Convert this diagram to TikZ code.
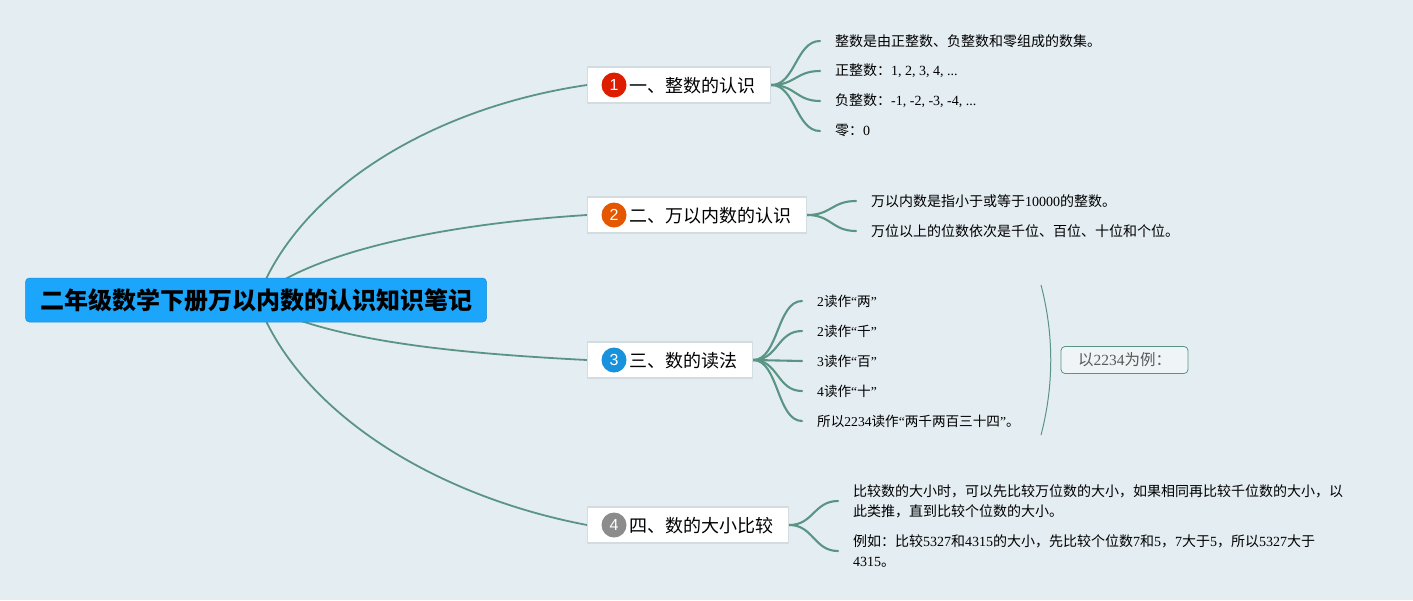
\documentclass[tikz,border=0pt]{standalone}
\usepackage{fontspec}
\setmainfont{Liberation Serif}
\newfontfamily\cjk{Noto Sans CJK SC}
\newfontfamily\numf{Liberation Sans}
\usetikzlibrary{backgrounds,calc}
\newcommand{\C}[1]{{\cjk #1}}
\definecolor{bgc}{HTML}{E4EDF2}
\definecolor{linec}{HTML}{5A9485}
\definecolor{rootc}{HTML}{1BA6FB}
\definecolor{topb}{HTML}{D3DCE0}
\tikzset{
  x=1pt,y=-1pt,
  rootbox/.style={fill=rootc,draw=rootc!85!black,line width=.5pt,rounded corners=4pt,minimum width=461pt,minimum height=44pt,inner sep=0pt,font=\fontsize{24}{28}\selectfont\cjk\bfseries,text=black},
  topicbox/.style={fill=white,draw=topb,line width=1.3pt,minimum height=36pt,inner sep=0pt,anchor=west,font=\fontsize{18}{22}\selectfont,text=black},
  topiclabel/.style={anchor=west,inner sep=0pt,font=\fontsize{18}{22}\selectfont\cjk},
  leafbox/.style={anchor=west,inner xsep=15pt,inner ysep=2pt,font=\fontsize{14}{20}\selectfont,text=black,align=left},
  narrowleaf/.style={leafbox,font=\fontsize{13.6}{20}\selectfont},
  numdot/.style={circle,minimum size=25pt,inner sep=0pt,text=white,font=\fontsize{16}{18}\selectfont\numf},
  mainline/.style={draw=linec,line width=1.8pt},
  subline/.style={draw=linec,line width=2.1pt,line cap=round},
  brace/.style={draw=linec,line width=1pt},
  sumbox/.style={fill=bgc!60!white,draw=linec,line width=.8pt,rounded corners=4pt,minimum width=127pt,minimum height=27pt,inner sep=0pt,font=\fontsize{15.5}{18}\selectfont,text=black!65}
}
\begin{document}
\begin{tikzpicture}
\useasboundingbox (0,0) rectangle (1413,600);
% root
\node[rootbox] (root) at (256,300) {\hspace{1pt}二年级数学下册万以内数的认识知识笔记};
% topics
\node[topicbox,minimum width=183pt] (t1) at (587,85) {};
\node[topicbox,minimum width=219pt] (t2) at (587,215) {};
\node[topicbox,minimum width=165pt] (t3) at (587,360) {};
\node[topicbox,minimum width=201pt] (t4) at (587,525) {};
\node[numdot,fill=red!75!orange!87!black] (n1) at (614,85) {1};
\node[numdot,fill=orange!75!red!90!black] (n2) at (614,215) {2};
\node[numdot,fill=rootc!88!black] (n3) at (614,360) {3};
\node[numdot,fill=black!45] (n4) at (614,525) {4};
\node[topiclabel] (l1) at (629,86) {一、整数的认识};
\node[topiclabel] (l2) at (629,216) {二、万以内数的认识};
\node[topiclabel] (l3) at (629,361) {三、数的读法};
\node[topiclabel] (l4) at (629,526) {四、数的大小比较};
% leaves
\node[leafbox] (a1) at (820,41) {\C{整数是由正整数、负整数和零组成的数集。}};
\node[leafbox] (a2) at (820,71) {\C{正整数：}1, 2, 3, 4, ...};
\node[leafbox] (a3) at (820,101) {\C{负整数：}-1, -2, -3, -4, ...};
\node[leafbox] (a4) at (820,131) {\C{零：}0};
\node[leafbox] (b1) at (856,201) {\C{万以内数是指小于或等于}10000\C{的整数。}};
\node[leafbox] (b2) at (856,231) {\C{万位以上的位数依次是千位、百位、十位和个位。}};
\node[narrowleaf] (c1) at (802,301) {2\C{读作}“\C{两}”};
\node[narrowleaf] (c2) at (802,331) {2\C{读作}“\C{千}”};
\node[narrowleaf] (c3) at (802,361) {3\C{读作}“\C{百}”};
\node[narrowleaf] (c4) at (802,391) {4\C{读作}“\C{十}”};
\node[narrowleaf] (c5) at (802,421) {\C{所以}2234\C{读作}“\C{两千两百三十四}”\C{。}};
\node[leafbox] (d1) at (838,501) {\C{比较数的大小时，可以先比较万位数的大小，如果相同再比较千位数的大小，以}\\\C{此类推，直到比较个位数的大小。}};
\node[leafbox] (d2) at (838,551) {\C{例如：比较}5327\C{和}4315\C{的大小，先比较个位数}7\C{和}5\C{，}7\C{大于}5\C{，所以}5327\C{大于}\\4315\C{。}};
% summary
\node[sumbox] (s) at (1124.5,360) {\C{以}2234\C{为例：}};
\coordinate (br1) at (1041,285);
\coordinate (br2) at (1041,435);
\begin{pgfonlayer}{background}
\fill[bgc] (0,0) rectangle (1413,600);
\draw[mainline] ($(root.center)+(3,-5)$) .. controls (300,190) and (430,108) .. (t1.west);
\draw[mainline] ($(root.center)+(5,-5)$) .. controls (310,255) and (430,225) .. (t2.west);
\draw[mainline] ($(root.center)+(5,5)$) .. controls (330,338) and (430,352) .. (t3.west);
\draw[mainline] ($(root.center)+(3,5)$) .. controls (300,410) and (430,495) .. (t4.west);
\foreach \e in {a1,a2,a3,a4}{\draw[subline] (t1.east) .. controls +(24,0) and ($(\e.west)+(-24,0)$) .. (\e.west);}
\foreach \e in {b1,b2}{\draw[subline] (t2.east) .. controls +(24,0) and ($(\e.west)+(-24,0)$) .. (\e.west);}
\foreach \e in {c1,c2,c3,c4,c5}{\draw[subline] (t3.east) .. controls +(25,0) and ($(\e.west)+(-25,0)$) .. (\e.west);}
\foreach \e in {d1,d2}{\draw[subline] (t4.east) .. controls +(24,0) and ($(\e.west)+(-24,0)$) .. (\e.west);}
\draw[brace] (br1) .. controls (1054,335) and (1054,385) .. (br2);
\end{pgfonlayer}
\end{tikzpicture}
\end{document}
